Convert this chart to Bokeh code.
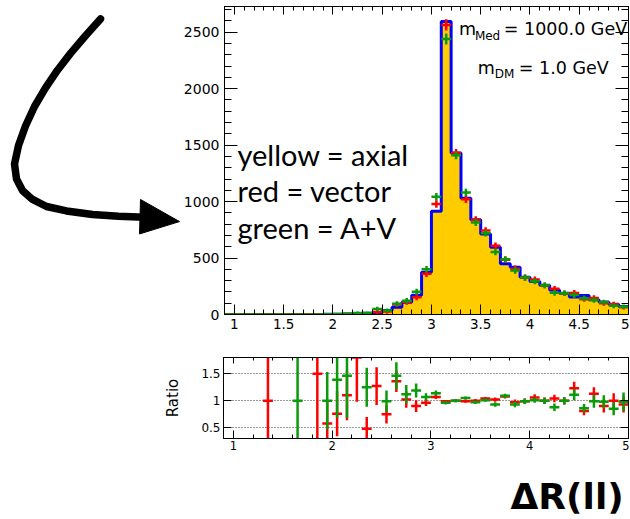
import numpy as np
from bokeh.plotting import figure
from bokeh.layouts import column, row
from bokeh.models import (Range1d, LinearAxis, SingleIntervalTicker, FixedTicker,
                          PrintfTickFormatter, CustomJSTickFormatter, Label, Grid)
from bokeh.embed import file_html
from bokeh.resources import INLINE

# ---------------- data ----------------
x_lo, x_hi, n_bins = 0.9, 5.0, 41
edges = np.round(np.linspace(x_lo, x_hi, n_bins + 1), 3)
centers = np.round(0.5 * (edges[:-1] + edges[1:]), 3)

# yellow = axial (filled histogram, blue outline)
axial = [0, 0, 0, 0, 1, 0, 0, 1, 0, 1,
         2, 3, 4, 6, 10, 18, 35, 65, 109, 170,
         375, 915, 2595, 1430, 1030, 840, 714, 596, 449, 419,
         330, 292, 258, 218, 188, 155, 168, 130, 110, 90,
         70]
# red = vector
vector = [0, 0, 0, 0, 1, 0, 0, 0, 0, 1.5,
          1.2, 2.3, 4.4, 10.8, 4.8, 23, 26, 88, 111, 153,
          360, 979, 2565, 1430, 1020, 840, 743, 608, 485, 406,
          327, 310, 258, 227, 188, 191, 136, 147, 99, 90,
          65]
vector_err = [0, 0, 0, 0, 4, 0, 0, 0, 0, 5,
              5, 6, 8, 12, 8, 18, 20, 22, 24, 26,
              28, 34, 50, 36, 33, 31, 30, 29, 28, 28,
              27, 27, 26, 26, 25, 25, 24, 24, 22, 22,
              20]
# green = A+V
av = [0, 0, 0, 0, 0, 0, 0, 1, 0, 0,
      2, 4.2, 5.8, 14, 12.5, 48, 35, 95, 122, 202,
      401, 1043, 2440, 1410, 1080, 815, 720, 554, 489, 390,
      327, 295, 258, 192, 188, 172, 144, 129, 108, 77,
      69]
av_err = [0, 0, 0, 0, 0, 0, 0, 4, 0, 0,
          5, 6, 8, 12, 12, 20, 18, 22, 24, 26,
          28, 34, 49, 36, 33, 31, 30, 29, 28, 28,
          27, 27, 26, 26, 25, 25, 24, 24, 22, 22,
          20]

nan = float("nan")
ratio_vector = [nan, nan, nan, nan, 1.0, nan, nan, nan, nan, 1.5,
                0.58, 0.76, 1.10, 1.80, 0.48, 1.27, 0.75, 1.36, 1.02, 0.90,
                0.96, 1.07, 0.99, 1.00, 0.99, 1.00, 1.04, 1.02, 1.08, 0.97,
                0.99, 1.06, 1.00, 1.04, 1.00, 1.23, 0.81, 1.13, 0.90, 1.00,
                0.93]
ratio_vector_err = [nan, nan, nan, nan, 1.5, nan, nan, nan, nan, 2.0,
                    0.40, 0.42, 0.46, 0.82, 0.22, 0.35, 0.17, 0.20, 0.15, 0.11,
                    0.06, 0.04, 0.02, 0.03, 0.03, 0.03, 0.03, 0.04, 0.04, 0.05,
                    0.05, 0.06, 0.06, 0.07, 0.07, 0.12, 0.08, 0.12, 0.12, 0.14,
                    0.15]
ratio_av = [nan, nan, nan, nan, nan, nan, nan, 1.0, nan, nan,
            1.00, 1.39, 1.46, 2.30, 1.25, 2.70, 0.99, 1.46, 1.12, 1.19,
            1.07, 1.14, 0.96, 1.00, 1.05, 0.97, 1.01, 0.93, 1.09, 0.93,
            0.99, 1.01, 1.00, 0.88, 1.00, 1.11, 0.86, 0.99, 0.98, 0.85,
            0.98]
ratio_av_err = [nan, nan, nan, nan, nan, nan, nan, 2.0, nan, nan,
                0.53, 0.70, 0.78, 0.40, 0.36, 0.50, 0.20, 0.25, 0.17, 0.13,
                0.07, 0.05, 0.03, 0.03, 0.03, 0.03, 0.03, 0.04, 0.04, 0.05,
                0.05, 0.05, 0.06, 0.07, 0.07, 0.10, 0.08, 0.12, 0.12, 0.12,
                0.17]

main_y_max = 2728
ratio_y_min, ratio_y_max = 0.3, 1.8

RED = "#ff0000"
GREEN = "#0a9a0a"
BLUE = "#0000ff"
YELLOW = "#ffcc00"
ROOTFONT = "DejaVu Sans"

# page-pixel -> data helpers for text placement inside the main frame
# (main frame: x 223..628, y 6..314)
def mx(px):
    return x_lo + (px - 223) * (x_hi - x_lo) / 405.0

def my(py):
    return (314 - py) * main_y_max / 308.0


blank = CustomJSTickFormatter(code="return ''")

def style_axis(ax, size, tick_in, minor_in, hide_labels=False):
    ax.major_tick_in = tick_in
    ax.major_tick_out = 0
    ax.minor_tick_in = minor_in
    ax.minor_tick_out = 0
    ax.axis_line_color = "black"
    ax.major_tick_line_color = "black"
    ax.minor_tick_line_color = "black"
    ax.major_label_text_font = ROOTFONT
    ax.major_label_text_color = "black"
    if hide_labels:
        ax.formatter = blank
        ax.major_label_text_font_size = "1px"
        ax.major_label_standoff = 0
    else:
        ax.major_label_text_font_size = size


# ---------------- arrow panel (left of the main frame) ----------------
ARROW_W, TOP_H = 180, 348
arrow_fig = figure(width=ARROW_W, height=TOP_H, x_range=Range1d(0, ARROW_W),
                   y_range=Range1d(TOP_H, 0), output_backend="svg", toolbar_location=None,
                   min_border=0, x_axis_type=None, y_axis_type=None)
arrow_fig.outline_line_color = None
arrow_fig.grid.visible = False
arrow_path_x = [100, 85, 70, 57, 45, 34, 25, 18, 14, 16, 22, 32, 46, 66, 92, 118, 144]
arrow_path_y = [14, 33, 53, 72, 92, 113, 135, 157, 178, 195, 208, 218, 226, 231, 235, 237, 238]
arrow_fig.line(arrow_path_x, arrow_path_y, line_color="black", line_width=7.5,
               line_join="round", line_cap="round")
arrow_fig.patch([140, 179, 139], [218, 243, 257], fill_color="black", line_color="black",
                line_width=1)

# ---------------- main panel ----------------
W = 629
main = figure(width=W - ARROW_W, height=TOP_H, x_range=Range1d(x_lo, x_hi),
              y_range=Range1d(0, main_y_max),
              output_backend="svg", toolbar_location=None,
              min_border_left=223 - ARROW_W, min_border_right=1, min_border_top=6,
              min_border_bottom=34, x_axis_type=None, y_axis_type=None)
main.outline_line_color = "black"
main.outline_line_width = 1

mxt = SingleIntervalTicker(interval=0.5, num_minor_ticks=5)
myt = SingleIntervalTicker(interval=500, num_minor_ticks=5)
fmt_g = PrintfTickFormatter(format="%g")

xb = LinearAxis(ticker=mxt, formatter=fmt_g, major_label_standoff=4)
style_axis(xb, "13.5px", 10, 5)
main.add_layout(xb, "below")
yl = LinearAxis(ticker=myt, major_label_standoff=5)
style_axis(yl, "14px", 13, 7)
main.add_layout(yl, "left")
xt = LinearAxis(ticker=mxt)
style_axis(xt, "1px", 8, 4, hide_labels=True)
main.add_layout(xt, "above")
yr = LinearAxis(ticker=myt)
style_axis(yr, "1px", 13, 7, hide_labels=True)
main.add_layout(yr, "right")

x_step = np.repeat(edges, 2)[1:-1]
y_step = np.repeat(np.array(axial, dtype=float), 2)
main.varea(x=x_step, y1=np.zeros_like(y_step), y2=y_step, fill_color=YELLOW)
main.line(x_step, y_step, line_color=BLUE, line_width=3)

for vals, errs, col in [(vector, vector_err, RED), (av, av_err, GREEN)]:
    v = np.array(vals, dtype=float)
    e = np.array(errs, dtype=float)
    main.segment(x0=edges[:-1], x1=edges[1:], y0=v, y1=v, line_color=col, line_width=2.5)
    main.segment(x0=centers, x1=centers, y0=v - e, y1=v + e, line_color=col, line_width=2.5)

# m_Med / m_DM texts
for txt, px, py, size in [("m", 458, 28, "17.5px"), ("Med", 474, 35, "12px"),
                          ("= 1000.0 GeV", 503, 28, "17.5px"),
                          ("m", 477, 67, "17.5px"), ("DM", 494, 73, "12px"),
                          ("= 1.0 GeV", 518, 67, "17.5px")]:
    main.add_layout(Label(x=mx(px), y=my(py), text=txt, text_font=ROOTFONT,
                          text_font_size=size, text_color="black",
                          text_align="left", text_baseline="alphabetic"))

# hand-written legend
for txt, py in [("yellow = axial", 154), ("red = vector", 190), ("green = A+V", 227)]:
    main.add_layout(Label(x=mx(236), y=my(py), text=txt, text_font="Lato",
                          text_font_size="29px", text_color="black",
                          text_align="left", text_baseline="alphabetic"))

# ---------------- ratio panel ----------------
RATIO_H = 106
ratio = figure(width=W, height=RATIO_H, x_range=Range1d(x_lo, x_hi),
               y_range=Range1d(ratio_y_min, ratio_y_max),
               output_backend="svg", toolbar_location=None,
               min_border_left=223, min_border_right=1, min_border_top=9, min_border_bottom=16,
               x_axis_type=None, y_axis_type=None)
ratio.outline_line_color = "black"

rxt = SingleIntervalTicker(interval=1, num_minor_ticks=5)
ryt = FixedTicker(ticks=[0.5, 1.0, 1.5])
rxb = LinearAxis(ticker=rxt, formatter=fmt_g, major_label_standoff=2)
style_axis(rxb, "11.5px", 8, 4)
ratio.add_layout(rxb, "below")
ryl = LinearAxis(ticker=ryt, formatter=PrintfTickFormatter(format="%g"),
                 major_label_standoff=3, axis_label="Ratio",
                 axis_label_text_font=ROOTFONT, axis_label_text_font_size="15px",
                 axis_label_text_font_style="normal", axis_label_text_color="black",
                 axis_label_standoff=16)
style_axis(ryl, "12px", 8, 4)
ratio.add_layout(ryl, "left")
rxt2 = LinearAxis(ticker=rxt)
style_axis(rxt2, "1px", 6, 3, hide_labels=True)
ratio.add_layout(rxt2, "above")
ryr = LinearAxis(ticker=ryt)
style_axis(ryr, "1px", 8, 4, hide_labels=True)
ratio.add_layout(ryr, "right")

ratio.add_layout(Grid(dimension=1, ticker=ryt, grid_line_color="#333333",
                      grid_line_dash="1 2", grid_line_width=1))

for vals, errs, col in [(ratio_vector, ratio_vector_err, RED), (ratio_av, ratio_av_err, GREEN)]:
    v = np.array(vals, dtype=float)
    e = np.array(errs, dtype=float)
    ratio.segment(x0=edges[:-1], x1=edges[1:], y0=v, y1=v, line_color=col, line_width=2.5)
    ratio.segment(x0=centers, x1=centers, y0=v - e, y1=v + e, line_color=col, line_width=2.5)

# ---------------- x-axis title strip (frame aligned with the ratio frame) ----------------
TITLE_H = 519 - TOP_H - RATIO_H
title_fig = figure(width=W, height=TITLE_H, x_range=Range1d(223, 628),
                   y_range=Range1d(TITLE_H, 0),
                   output_backend="svg", toolbar_location=None,
                   min_border_left=223, min_border_right=1, min_border_top=0, min_border_bottom=0,
                   x_axis_type=None, y_axis_type=None)
title_fig.outline_line_color = None
title_fig.grid.visible = False
# baseline placed so that the title sits at the reference position
title_fig.add_layout(Label(x=510, y=TITLE_H - 23, text="ΔR(ll)", text_font=ROOTFONT,
                           text_font_size="36px", text_font_style="bold", text_color="black",
                           text_align="left", text_baseline="alphabetic"))

layout = column(row(arrow_fig, main, spacing=0), ratio, title_fig, spacing=0)
open("out.html", "w").write(file_html(layout, INLINE))
